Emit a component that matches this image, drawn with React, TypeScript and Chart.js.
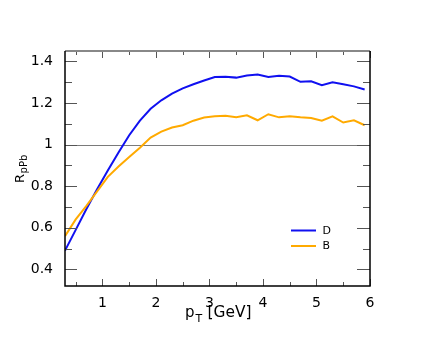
import React, { useEffect, useRef } from "react";
import { Chart, registerables } from "chart.js";

Chart.register(...registerables);

// ---- data ----
const pT = [0.3, 0.5, 0.7, 0.9, 1.1, 1.3, 1.5, 1.7, 1.9, 2.1, 2.3, 2.5, 2.7, 2.9, 3.1, 3.3, 3.5, 3.7, 3.9, 4.1, 4.3, 4.5, 4.7, 4.9, 5.1, 5.3, 5.5, 5.7, 5.9];
const rD = [0.49, 0.59, 0.69, 0.785, 0.875, 0.962, 1.045, 1.115, 1.172, 1.213, 1.245, 1.27, 1.29, 1.308, 1.325, 1.326, 1.322, 1.332, 1.337, 1.325, 1.331, 1.327, 1.302, 1.304, 1.286, 1.3, 1.29, 1.28, 1.265];
const rB = [0.56, 0.64, 0.705, 0.775, 0.845, 0.895, 0.94, 0.985, 1.034, 1.062, 1.082, 1.093, 1.115, 1.13, 1.136, 1.139, 1.131, 1.141, 1.117, 1.146, 1.131, 1.136, 1.131, 1.128, 1.115, 1.136, 1.106, 1.117, 1.093];
const seriesLabels = ["D", "B"];
const seriesColors = ["#1010f0", "#ffaa00"];
const xMajorTicks = [1, 2, 3, 4, 5, 6];
const xMinorTicks = [0.5, 1.5, 2.5, 3.5, 4.5, 5.5];
const yMajorTicks = [0.4, 0.6, 0.8, 1, 1.2, 1.4];
const yMinorTicks = [0.5, 0.7, 0.9, 1.1, 1.3];
const xRange = [0.3, 6];
const yRange = [0.32, 1.45];
const refLineValue = 1;

const FONT = "'DejaVu Sans', 'Liberation Sans', sans-serif";

const decorPlugin = {
  id: "decor",
  beforeDatasetsDraw(chart: any) {
    const { ctx, chartArea: a, scales } = chart;
    const y1 = Math.round(scales.y.getPixelForValue(refLineValue)) + 0.5;
    ctx.save();
    ctx.strokeStyle = "#7a7a7a";
    ctx.lineWidth = 1;
    ctx.beginPath();
    ctx.moveTo(a.left, y1);
    ctx.lineTo(a.right, y1);
    ctx.stroke();
    ctx.restore();
  },
  afterDatasetsDraw(chart: any) {
    const { ctx, chartArea: a, scales } = chart;
    const xs = scales.x;
    const ys = scales.y;
    ctx.save();
    // ticks
    ctx.strokeStyle = "#555";
    ctx.lineWidth = 1;
    ctx.beginPath();
    const xt = (v: number, len: number) => {
      const px = Math.round(xs.getPixelForValue(v)) + 0.5;
      ctx.moveTo(px, a.bottom);
      ctx.lineTo(px, a.bottom - len);
      ctx.moveTo(px, a.top);
      ctx.lineTo(px, a.top + len);
    };
    xMajorTicks.forEach((v) => xt(v, 7));
    xMinorTicks.forEach((v) => xt(v, 4));
    const yt = (v: number, lenL: number, lenR: number) => {
      const py = Math.round(ys.getPixelForValue(v)) + 0.5;
      ctx.moveTo(a.left, py);
      ctx.lineTo(a.left + lenL, py);
      ctx.moveTo(a.right, py);
      ctx.lineTo(a.right - lenR, py);
    };
    yMajorTicks.forEach((v) => yt(v, 12, 13));
    yMinorTicks.forEach((v) => yt(v, 7, 7));
    ctx.stroke();

    // frame
    ctx.strokeStyle = "#888";
    ctx.lineWidth = 2;
    ctx.beginPath();
    ctx.moveTo(a.left, a.top);
    ctx.lineTo(a.right, a.top);
    ctx.stroke();
    ctx.strokeStyle = "#000";
    ctx.lineWidth = 1.5;
    ctx.beginPath();
    ctx.moveTo(a.left, a.top);
    ctx.lineTo(a.left, a.bottom);
    ctx.lineTo(a.right, a.bottom);
    ctx.lineTo(a.right, a.top);
    ctx.stroke();

    // legend
    const legY = [230.5, 246];
    seriesLabels.forEach((lab, i) => {
      ctx.strokeStyle = seriesColors[i];
      ctx.lineWidth = 2;
      ctx.beginPath();
      ctx.moveTo(291, legY[i]);
      ctx.lineTo(316, legY[i]);
      ctx.stroke();
      ctx.fillStyle = "#000";
      ctx.font = `11px ${FONT}`;
      ctx.textBaseline = "middle";
      ctx.textAlign = "left";
      ctx.fillText(lab, 322.5, legY[i] + 0.5);
    });

    // x title
    ctx.fillStyle = "#000";
    ctx.textBaseline = "alphabetic";
    ctx.textAlign = "left";
    ctx.font = `15px ${FONT}`;
    ctx.fillText("p", 185, 317);
    ctx.font = `11px ${FONT}`;
    ctx.fillText("T", 195.5, 321.5);
    ctx.font = `15.4px ${FONT}`;
    ctx.fillText("[GeV]", 207.5, 317);

    // y title (rotated)
    ctx.translate(24, 183);
    ctx.rotate(-Math.PI / 2);
    ctx.font = `13px ${FONT}`;
    ctx.fillText("R", 0, 0);
    const rw = ctx.measureText("R").width;
    ctx.font = `10px ${FONT}`;
    ctx.fillText("pPb", rw + 0.5, 3);
    ctx.restore();
  },
};

export default function App() {
  const ref = useRef<HTMLCanvasElement | null>(null);
  useEffect(() => {
    if (!ref.current) return;
    const chart = new Chart(ref.current, {
      type: "line",
      data: {
        datasets: [
          {
            label: seriesLabels[0],
            data: pT.map((x, i) => ({ x, y: rD[i] })),
            borderColor: seriesColors[0],
            borderWidth: 2,
            pointRadius: 0,
            tension: 0,
            fill: false,
            order: 2,
          },
          {
            label: seriesLabels[1],
            data: pT.map((x, i) => ({ x, y: rB[i] })),
            borderColor: seriesColors[1],
            borderWidth: 2,
            pointRadius: 0,
            tension: 0,
            fill: false,
            order: 1,
          },
        ],
      },
      options: {
        responsive: false,
        animation: false,
        events: [],
        layout: { padding: { top: 51, right: 66, left: 0, bottom: 0 } },
        plugins: { legend: { display: false }, tooltip: { enabled: false } },
        scales: {
          x: {
            type: "linear",
            min: xRange[0],
            max: xRange[1],
            grid: { display: false },
            border: { display: false },
            afterBuildTicks: (s: any) => {
              s.ticks = xMajorTicks.map((v) => ({ value: v }));
            },
            afterFit: (s: any) => {
              s.height = 51;
            },
            ticks: {
              color: "#000",
              padding: 1,
              maxRotation: 0,
              autoSkip: false,
              font: { family: FONT, size: 14 },
              callback: (v: any) => String(v),
            },
          },
          y: {
            type: "linear",
            min: yRange[0],
            max: yRange[1],
            grid: { display: false },
            border: { display: false },
            afterBuildTicks: (s: any) => {
              s.ticks = yMajorTicks.map((v) => ({ value: v }));
            },
            afterFit: (s: any) => {
              s.width = 65;
            },
            ticks: {
              color: "#000",
              padding: 4,
              autoSkip: false,
              font: { family: FONT, size: 14 },
              callback: (v: any) => String(Number(Number(v).toFixed(1))),
            },
          },
        },
      },
      plugins: [decorPlugin],
    } as any);
    return () => chart.destroy();
  }, []);
  return (
    <div style={{ position: "absolute", left: 0, top: 0, width: 436, height: 337, background: "#fff" }}>
      <canvas ref={ref} width={436} height={337} style={{ display: "block", width: 436, height: 337 }} />
    </div>
  );
}
